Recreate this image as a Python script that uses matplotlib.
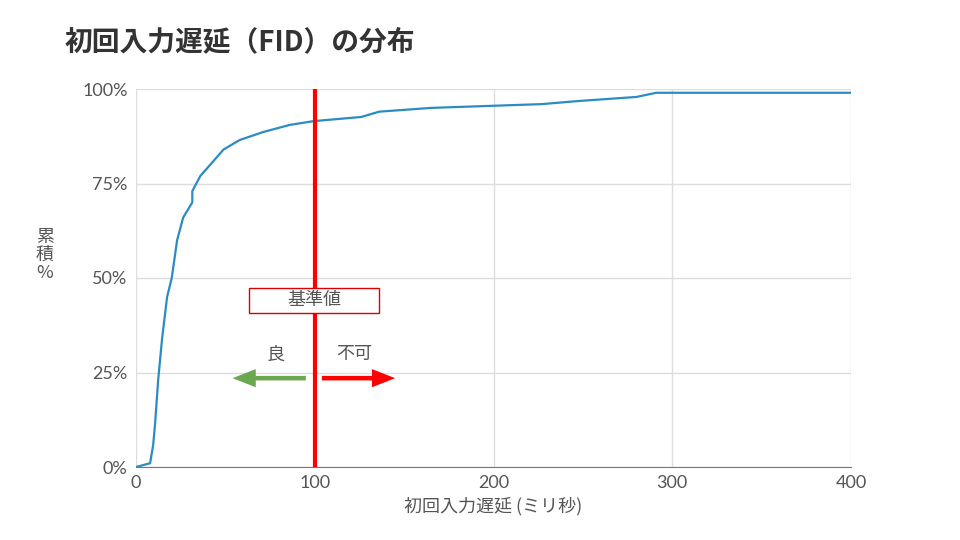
import matplotlib
matplotlib.use('Agg')
import matplotlib.pyplot as plt
from matplotlib.patches import FancyArrow, Rectangle

plt.rcParams['font.family'] = ['Lato', 'Noto Sans CJK JP', 'DejaVu Sans']

# cumulative distribution
fid_ms = [0, 7.9, 9.6, 10.7, 12.4, 14.6, 17.4, 20, 23, 26.4, 31.5, 31.5, 36, 41.6, 49, 58, 71,
          86, 99.4, 126, 136, 165, 227, 247, 280, 291, 401]
cum_pct = [0, 1, 5.8, 11.6, 23, 34, 45, 50, 60, 66, 70, 73, 77, 80, 84, 86.5, 88.6,
           90.5, 91.5, 92.6, 94, 95, 96, 96.8, 97.9, 99, 99]
x_ticks = [0, 100, 200, 300, 400]
y_ticks = [0, 25, 50, 75, 100]
threshold = 100

fig = plt.figure(figsize=(9.6, 5.4), dpi=100)
ax = fig.add_axes([136/960, 1-467/540, (851-136)/960, (467-89)/540])

ax.plot(fid_ms, cum_pct, color='#2b8cc4', lw=1.6)
ax.axvline(threshold, color='#ff0000', lw=3, zorder=3)

ax.set_xlim(0, 400)
ax.set_ylim(0, 100)
ax.set_xticks(x_ticks)
ax.set_yticks(y_ticks)
ax.set_yticklabels([f'{v}%' for v in y_ticks])
ax.grid(color='#dddddd', lw=1)
ax.set_axisbelow(True)
for s in ['top', 'right', 'left']:
    ax.spines[s].set_visible(False)
ax.spines['bottom'].set_color('#777777')
ax.tick_params(length=0, labelsize=13, colors='#555555', pad=6)
ax.set_xlabel('初回入力遅延 (ミリ秒)', fontsize=13, color='#555555', family=['Noto Sans CJK JP'])

fig.text(45/960, 1-255/540, '累\n積\n%', fontsize=13, color='#555555', ha='center', va='center',
         linespacing=1.0, family=['Noto Sans CJK JP', 'DejaVu Sans'])
fig.text(65/960, 1-42/540, '初回入力遅延（FID）の分布', fontsize=20, fontweight='bold',
         color='#333333', va='center', family=['Noto Sans CJK JP'])

ax.add_patch(Rectangle((63, 40.8), 73, 6.6, fc='white', ec='#dd0000', lw=1, zorder=4))
ax.text(threshold, 44.1, '基準値', ha='center', va='center', fontsize=13, color='#555555',
        family=['Noto Sans CJK JP'], zorder=5)
ax.text(78, 29.8, '良', ha='center', va='center', fontsize=13, color='#555555', family=['Noto Sans CJK JP'])
ax.text(122, 29.8, '不可', ha='center', va='center', fontsize=13, color='#555555', family=['Noto Sans CJK JP'])
ax.add_patch(FancyArrow(95, 23.5, -41, 0, width=1.2, head_width=4.8, head_length=13,
                        length_includes_head=True, color='#6aa84f', lw=0))
ax.add_patch(FancyArrow(104, 23.5, 41, 0, width=1.2, head_width=4.8, head_length=13,
                        length_includes_head=True, color='#ff0000', lw=0))

fig.savefig('out.png', dpi=100)
